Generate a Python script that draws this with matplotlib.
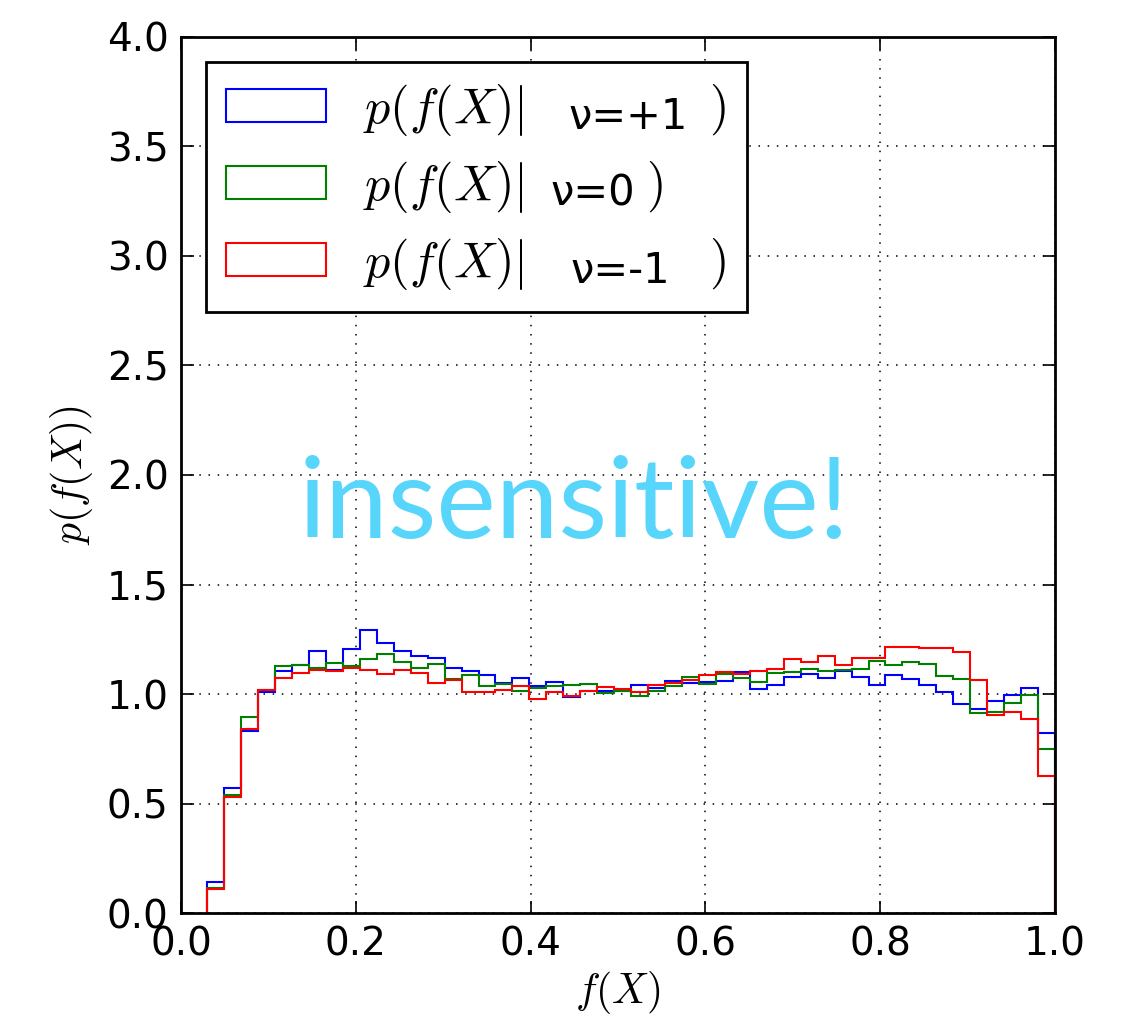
import matplotlib
matplotlib.use("Agg")
import matplotlib.pyplot as plt
from matplotlib.transforms import IdentityTransform
import numpy as np

# 50 bins between the min and max of f(X)
bin_edges = np.linspace(0.03, 1.0, 51)

p_plus = [0.144, 0.571, 0.831, 1.008, 1.106, 1.133, 1.198, 1.110, 1.205, 1.294,
          1.233, 1.195, 1.172, 1.163, 1.118, 1.107, 1.086, 1.052, 1.072, 1.037,
          1.057, 0.988, 1.016, 1.016, 1.015, 1.040, 1.028, 1.058, 1.050, 1.055,
          1.058, 1.100, 1.021, 1.041, 1.077, 1.092, 1.072, 1.103, 1.077, 1.041,
          1.087, 1.067, 1.041, 1.008, 0.955, 0.933, 0.969, 0.995, 1.026, 0.824]
p_zero = [0.115, 0.538, 0.893, 1.020, 1.129, 1.132, 1.118, 1.141, 1.129, 1.160,
          1.183, 1.147, 1.120, 1.137, 1.067, 1.087, 1.037, 1.044, 1.015, 1.026,
          1.036, 1.040, 1.045, 1.006, 1.012, 0.991, 1.016, 1.037, 1.076, 1.048,
          1.093, 1.072, 1.057, 1.095, 1.101, 1.113, 1.104, 1.110, 1.115, 1.150,
          1.133, 1.146, 1.137, 1.080, 1.069, 0.914, 0.916, 0.960, 0.995, 0.750]
p_minus = [0.109, 0.528, 0.842, 1.020, 1.072, 1.095, 1.110, 1.103, 1.117, 1.110,
           1.092, 1.110, 1.095, 1.052, 1.064, 1.011, 1.011, 1.018, 1.035, 0.979,
           1.007, 0.991, 1.015, 1.031, 1.021, 1.008, 1.040, 1.052, 1.065, 1.086,
           1.102, 1.092, 1.103, 1.115, 1.160, 1.144, 1.172, 1.133, 1.164, 1.164,
           1.215, 1.215, 1.212, 1.209, 1.190, 1.064, 0.903, 0.919, 0.888, 0.624]

nu_labels = ["ν=+1", "ν=0", "ν=-1"]
colors = ["blue", "green", "red"]
# the nu part was pasted over the latex label, so leave a gap for it
gaps = [11, 7, 11]
nu_offset = [205, 187, 207]  # px from label start

plt.rcParams["mathtext.fontset"] = "cm"
plt.rcParams["font.family"] = "DejaVu Sans"

fig = plt.figure(figsize=(11.28, 10.18), dpi=100)
ax = fig.add_axes([0.1605, 0.1031, 0.9353 - 0.1605, 0.9637 - 0.1031])

centers = 0.5 * (bin_edges[:-1] + bin_edges[1:])
for vals, c, g in zip([p_plus, p_zero, p_minus], colors, gaps):
    ax.hist(centers, bins=bin_edges, weights=vals, histtype="step",
            color=c, linewidth=1.5,
            label=r"$p(f(X)|$" + " " * g + r"$\,)$")

ax.set_xlim(0, 1)
ax.set_ylim(0, 4)
ax.set_xticks(np.arange(0, 1.01, 0.2))
ax.set_yticks(np.arange(0, 4.01, 0.5))
ax.grid(True, color="black", linestyle=(0, (1, 5)), linewidth=1.1)
ax.tick_params(direction="in", length=9, width=1.2, labelsize=28, pad=9,
               top=True, right=True)
for s in ax.spines.values():
    s.set_linewidth(2)

ax.set_xlabel(r"$f(X)$", fontsize=30, labelpad=4)
ax.set_ylabel(r"$p(f(X))$", fontsize=30, labelpad=8)

leg = ax.legend(loc="upper left", fontsize=36, handlelength=2.0,
                handleheight=0.64, handletextpad=0.74, borderpad=0.4,
                borderaxespad=0.5, labelspacing=0.42, fancybox=False,
                framealpha=1)
leg.get_frame().set_edgecolor("black")
leg.get_frame().set_linewidth(2)

ax.text(0.45, 1.714, "insensitive!", color="#58d5fb", fontsize=81,
        family="Lato", ha="center", va="baseline")

fig.canvas.draw()
r = fig.canvas.get_renderer()
for t, nu, off in zip(leg.get_texts(), nu_labels, nu_offset):
    bb = t.get_window_extent(r)
    yc = 0.5 * (bb.y0 + bb.y1) - 7
    fig.text(bb.x0 + off, yc, nu, fontsize=30, va="center", ha="left",
             transform=IdentityTransform())

fig.savefig("out.png", dpi=100, facecolor="white")
